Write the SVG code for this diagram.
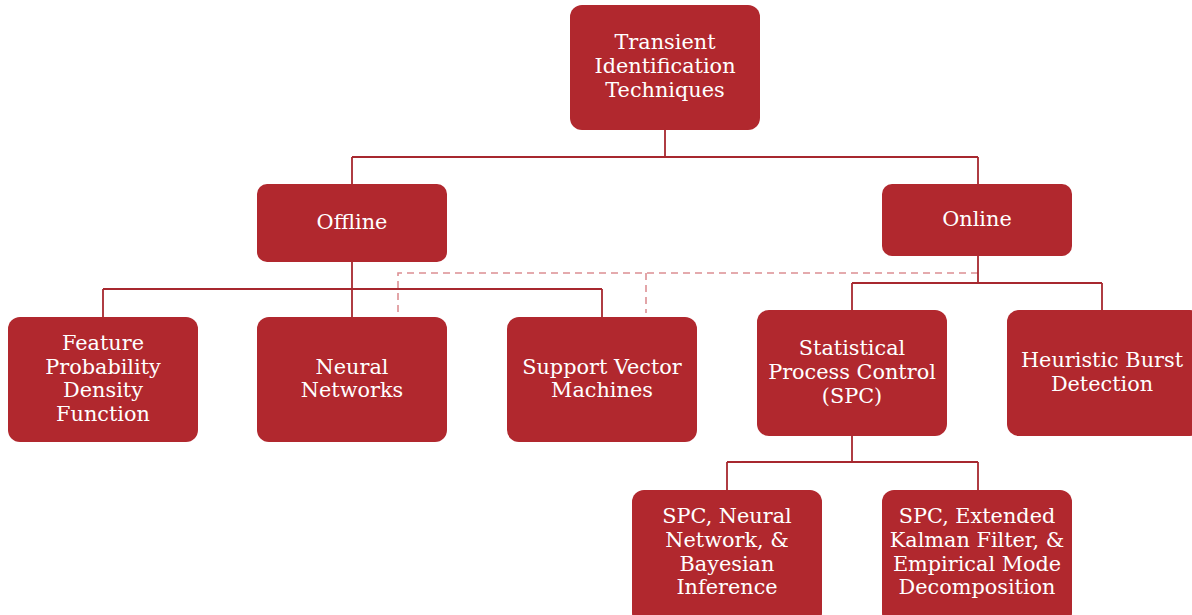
<svg xmlns="http://www.w3.org/2000/svg" width="1192" height="615" viewBox="0 0 1192 615">
<style>
.n{fill:#B1282E;}
.t{fill:#fff;font-family:"DejaVu Serif","Liberation Serif",serif;font-size:20.8px;text-anchor:middle;}
.c{fill:none;stroke:#A7282F;stroke-width:1.8;}
.d{fill:none;stroke:#DC8F93;stroke-width:1.6;stroke-dasharray:7 5;}
</style>
<rect width="1192" height="615" fill="#fff"/>
<g id="connectors">
<path class="c" d="M665 130V157M352 157H978M352 157V184M978 157V184"/>
<path class="d" d="M978 273H398V313M646 273V313"/>
<path class="c" d="M352 262V317M103 289H602M103 289V317M602 289V317"/>
<path class="c" d="M978 256V283M852 283H1102M852 283V310M1102 283V310"/>
<path class="c" d="M852 436V462M727 462H978M727 462V490M978 462V490"/>
</g>
<g id="root"><rect class="n" x="570" y="5" width="190" height="125" rx="12"/>
<text class="t" x="665" y="49">Transient</text><text class="t" x="665" y="73">Identification</text><text class="t" x="665" y="97">Techniques</text></g>
<g id="offline"><rect class="n" x="257" y="184" width="190" height="78" rx="10"/>
<text class="t" x="352" y="229">Offline</text></g>
<g id="online"><rect class="n" x="882" y="184" width="190" height="72" rx="10"/>
<text class="t" x="977" y="226">Online</text></g>
<g id="feature"><rect class="n" x="8" y="317" width="190" height="125" rx="12"/>
<text class="t" x="103" y="350">Feature</text><text class="t" x="103" y="374">Probability</text><text class="t" x="103" y="397">Density</text><text class="t" x="103" y="421">Function</text></g>
<g id="neural"><rect class="n" x="257" y="317" width="190" height="125" rx="12"/>
<text class="t" x="352" y="374">Neural</text><text class="t" x="352" y="397">Networks</text></g>
<g id="svm"><rect class="n" x="507" y="317" width="190" height="125" rx="12"/>
<text class="t" x="602" y="374">Support Vector</text><text class="t" x="602" y="397">Machines</text></g>
<g id="spc"><rect class="n" x="757" y="310" width="190" height="126" rx="12"/>
<text class="t" x="852" y="355">Statistical</text><text class="t" x="852" y="379">Process Control</text><text class="t" x="852" y="403">(SPC)</text></g>
<g id="heuristic"><rect class="n" x="1007" y="310" width="195" height="126" rx="12"/>
<text class="t" x="1102" y="367">Heuristic Burst</text><text class="t" x="1102" y="391">Detection</text></g>
<g id="spc-nn"><rect class="n" x="632" y="490" width="190" height="135" rx="12"/>
<text class="t" x="727" y="523">SPC, Neural</text><text class="t" x="727" y="547">Network, &amp;</text><text class="t" x="727" y="571">Bayesian</text><text class="t" x="727" y="594">Inference</text></g>
<g id="spc-ekf"><rect class="n" x="882" y="490" width="190" height="135" rx="12"/>
<text class="t" x="977" y="523">SPC, Extended</text><text class="t" x="977" y="547">Kalman Filter, &amp;</text><text class="t" x="977" y="571">Empirical Mode</text><text class="t" x="977" y="594">Decomposition</text></g>
</svg>
